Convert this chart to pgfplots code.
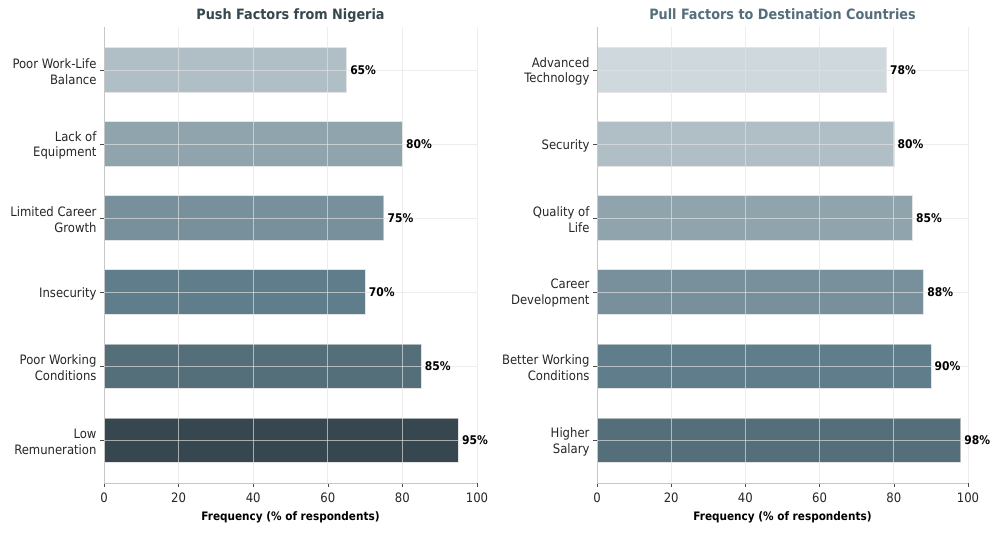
\documentclass[border=0pt]{standalone}
\usepackage{pgfplots}
\pgfplotsset{compat=1.18}
\usepackage{fontspec}
\setmainfont{DejaVu Sans Condensed}

% Material blue-grey shades
\definecolor{bg100}{HTML}{CFD8DC}
\definecolor{bg200}{HTML}{B0BEC5}
\definecolor{bg300}{HTML}{90A4AE}
\definecolor{bg400}{HTML}{78909C}
\definecolor{bg500}{HTML}{607D8B}
\definecolor{bg600}{HTML}{546E7A}
\definecolor{bg800}{HTML}{37474F}
\definecolor{gridgrey}{HTML}{E4E4E4}

\pgfplotsset{
  factorbars/.style={
    scale only axis, height=456bp,
    xbar, bar width=0.6, bar shift=0pt,
    xmin=0, xmax=100, ymin=-0.58, ymax=5.58,
    xtick={0,20,...,100}, ytick={0,...,5},
    axis lines*=left,
    axis line style={draw=black!22, line width=0.9bp, -},
    tick align=outside, major tick length=4bp,
    tick style={black!70, line width=0.6bp},
    grid=major, grid style={draw=gridgrey, draw opacity=0.65, line width=0.7bp},
    axis on top,
    ticklabel style={font=\fontsize{13}{16}\selectfont, text=black!85},
    xticklabel style={yshift=-2.5bp},
    yticklabel style={align=right, yshift=-1.5bp},
    /pgf/number format/assume math mode=true,
    xlabel={Frequency (\% of respondents)},
    xlabel style={font=\fontsize{11.7}{13}\selectfont\bfseries, at={(axis description cs:0.5,0)}, anchor=base, yshift=-38bp, inner sep=0pt},
    title style={font=\fontsize{14.3}{16}\selectfont\bfseries, at={(axis description cs:0.5,1)}, anchor=base, yshift=2bp, inner sep=0pt},
    point meta=x,
    nodes near coords={\pgfmathprintnumber{\pgfplotspointmeta}\%},
    nodes near coords style={font=\fontsize{12}{14}\selectfont\bfseries, text=black, anchor=west, inner sep=0pt, xshift=3.5bp},
    every axis plot/.append style={draw=white!85!black, draw opacity=0.7, line width=0.6bp},
  }
}

\begin{document}
\begin{tikzpicture}
\path[use as bounding box] (0,0) rectangle (1003bp,536bp);

% Push factors
\begin{axis}[factorbars, at={(104bp,53bp)}, anchor=south west, width=373bp,
  title={Push Factors from Nigeria}, title style={text=bg800},
  yticklabels={{Low\\Remuneration},{Poor Working\\Conditions},{Insecurity},{Limited Career\\Growth},{Lack of\\Equipment},{Poor Work-Life\\Balance}}]
\addplot[fill=bg800] coordinates {(95,0)};
\addplot[fill=bg600] coordinates {(85,1)};
\addplot[fill=bg500] coordinates {(70,2)};
\addplot[fill=bg400] coordinates {(75,3)};
\addplot[fill=bg300] coordinates {(80,4)};
\addplot[fill=bg200] coordinates {(65,5)};
\end{axis}

% Pull factors
\begin{axis}[factorbars, at={(597bp,53bp)}, anchor=south west, width=371bp,
  title={Pull Factors to Destination Countries}, title style={text=bg600},
  yticklabels={{Higher\\Salary},{Better Working\\Conditions},{Career\\Development},{Quality of\\Life},{Security},{Advanced\\Technology}}]
\addplot[fill=bg600] coordinates {(98,0)};
\addplot[fill=bg500] coordinates {(90,1)};
\addplot[fill=bg400] coordinates {(88,2)};
\addplot[fill=bg300] coordinates {(85,3)};
\addplot[fill=bg200] coordinates {(80,4)};
\addplot[fill=bg100] coordinates {(78,5)};
\end{axis}
\end{tikzpicture}
\end{document}
